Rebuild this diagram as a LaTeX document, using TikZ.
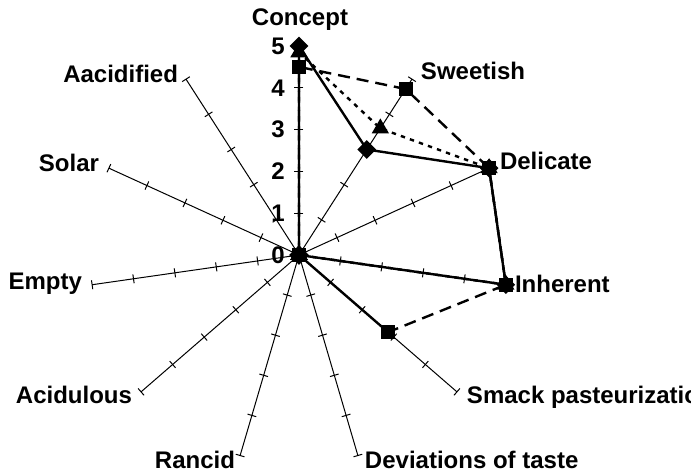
\documentclass[tikz,border=0pt]{standalone}
\usepackage{fontspec}
\setmainfont{Liberation Sans}
\usetikzlibrary{shapes.geometric,calc}
\begin{document}
\begin{tikzpicture}[x=0.5pt,y=0.5pt,
  axisline/.style={line width=0.5pt,black},
  tickmark/.style={line width=0.5pt,black},
  lbl/.style={font=\bfseries\fontsize{12}{14}\selectfont,inner sep=0pt,outer sep=0pt},
  numlbl/.style={font=\bfseries\fontsize{12}{14}\selectfont,inner sep=0pt,anchor=east},
  solidser/.style={line width=1.2pt,line join=round},
  dashser/.style={line width=1.2pt,dash pattern=on 6pt off 3.5pt},
  dotser/.style={line width=1.2pt,dash pattern=on 2.2pt off 2.6pt},
  dmark/.style={diamond,fill=black,inner sep=0pt,minimum size=9.5pt},
  smark/.style={rectangle,fill=black,inner sep=0pt,minimum size=7pt},
  tmark/.style={regular polygon,regular polygon sides=3,fill=black,inner sep=0pt,minimum size=10pt}]
\useasboundingbox (-299,-219) rectangle (392,255);
\def\U{41.8}
\coordinate (C) at (0,0);
% axes with ticks
\foreach \k in {0,...,10}{
  \pgfmathsetmacro\ang{90-\k*360/11}
  \coordinate (E\k) at (\ang:5*\U);
  \draw[axisline] (C) -- (E\k);
  \foreach \v in {1,...,5}{
    \draw[tickmark,rotate=\ang] (\v*\U,-4.5) -- (\v*\U,4.5);
  }
}
% scale numbers on the Concept axis
\foreach \v in {0,...,5}{
  \node[numlbl] (n\v) at (-14,\v*\U) {\v};
}
% series data
\foreach \k/\val in {0/5,1/3,2/5,3/5,4/0,5/0,6/0,7/0,8/0,9/0,10/0}{
  \coordinate (D\k) at ({90-\k*360/11}:{\val*\U});
}
\foreach \k/\val in {0/4.5,1/4.72,2/5,3/5,4/2.82,5/0,6/0,7/0,8/0,9/0,10/0}{
  \coordinate (S\k) at ({90-\k*360/11}:{\val*\U});
}
\foreach \k/\val in {0/4.85,1/3.6,2/5,3/5,4/0,5/0,6/0,7/0,8/0,9/0,10/0}{
  \coordinate (T\k) at ({90-\k*360/11}:{\val*\U});
}
% series lines
\draw[dashser] (S10) -- (S0) -- (S1) -- (S2) -- (S3) -- (S4);
\draw[solidser] (S4) -- (S5);
\draw[dotser] (T10) -- (T0) -- (T1) -- (T2) -- (T3) -- (T4);
\draw[solidser] (D10) -- (D0) -- (D1) -- (D2) -- (D3) -- (D4) -- (D5) -- (D6) -- (D7) -- (D8) -- (D9) -- cycle;
% markers
\foreach \k in {0,...,10}{
  \node[smark] (sm\k) at (S\k) {};
}
\foreach \k in {0,...,10}{
  \node[tmark] (tm\k) at (T\k) {};
}
\foreach \k in {0,...,10}{
  \node[dmark] (dm\k) at (D\k) {};
}
% axis labels
\node[lbl,anchor=base] (lConcept) at (1,229) {Concept};
\node[lbl,anchor=base west] (lSweet) at (122,175) {Sweetish};
\node[lbl,anchor=base west] (lDel) at (201,85) {Delicate};
\node[lbl,anchor=base west] (lInh) at (216,-38) {Inherent};
\node[lbl,anchor=base west] (lSmack) at (168,-149) {Smack pasteurization};
\node[lbl,anchor=base west] (lDev) at (66,-214) {Deviations of taste};
\node[lbl,anchor=base east] (lRan) at (-64,-214) {Rancid};
\node[lbl,anchor=base east] (lAcu) at (-167,-149) {Acidulous};
\node[lbl,anchor=base east] (lEmp) at (-217,-35) {Empty};
\node[lbl,anchor=base east] (lSol) at (-200,83) {Solar};
\node[lbl,anchor=base east] (lAac) at (-121,172) {Aacidified};
\end{tikzpicture}
\end{document}
